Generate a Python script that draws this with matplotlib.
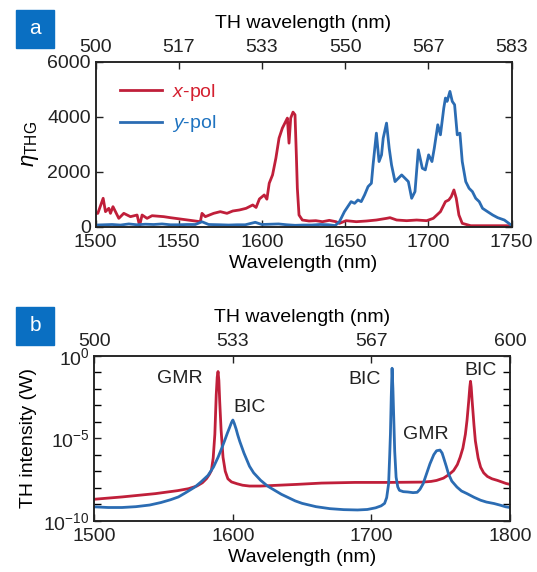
import matplotlib
matplotlib.use("Agg")
import matplotlib.pyplot as plt
import numpy as np
from matplotlib.ticker import NullFormatter, FixedLocator

plt.rcParams['font.family'] = ['Liberation Sans', 'DejaVu Sans']
plt.rcParams['mathtext.fontset'] = 'custom'
plt.rcParams['mathtext.rm'] = 'Liberation Sans'
plt.rcParams['mathtext.it'] = 'Liberation Sans:italic'
plt.rcParams['mathtext.bf'] = 'Liberation Sans:bold'

RED = '#C01F3A'
BLUE = '#2B6CB3'
BOX = '#0A6FC2'

# ---------------- Panel a data ----------------
xpol_wl = [1500, 1501.4, 1504.6, 1506, 1508, 1509, 1510.5, 1512, 1514, 1517, 1521, 1525, 1526.5,
           1528, 1531, 1534, 1541, 1545, 1563, 1564, 1566, 1571, 1575, 1579, 1582.5, 1586.5,
           1590.5, 1594.5, 1596.5, 1598.5, 1601.4, 1603, 1604.4, 1606.4, 1608.4, 1610.3, 1612.3, 1614.3,
           1615.3, 1616.3, 1617.3, 1618.7, 1619.9, 1620.7, 1621.3, 1622.3, 1624.3, 1628.3,
           1632.4, 1636.4, 1640.5, 1644.5, 1646.6, 1650.6, 1656.7, 1662.8, 1668.8, 1675,
           1677, 1681, 1687, 1693, 1699, 1703, 1707.3, 1710.3, 1712.3, 1713.8, 1715.4,
           1716.8, 1718.4, 1720.4, 1725.5, 1737.7, 1746.8, 1750]
xpol_eta = [480, 486, 1033, 547, 668, 486, 729, 547, 304, 486, 365, 425, 36,
            425, 304, 400, 365, 328, 182, 486, 365, 486, 547, 486, 571, 608,
            668, 790, 700, 1008, 1154, 1000, 1580, 1883, 2490, 3220, 3584, 3827,
            3949, 3038, 3949, 4167, 4070, 2612, 1397, 425, 243, 207,
            219, 182, 231, 182, 122, 219, 182, 207, 243, 304,
            328, 243, 219, 243, 219, 304, 547, 911, 972, 1093, 1336,
            1033, 425, 122, 36, 36, 36, 30]

ypol_wl = [1500, 1505, 1510, 1515, 1520, 1525, 1530, 1535, 1540, 1545, 1550, 1555, 1560,
           1564, 1568, 1575, 1580, 1585, 1590, 1596, 1600, 1605, 1610, 1615, 1620, 1625,
           1630, 1635, 1640, 1644, 1646.6, 1649.6, 1651.6, 1653.6, 1655.7, 1657.7, 1659.7,
           1661.7, 1663.8, 1665.8, 1666.8, 1668.8, 1670.4, 1671.9, 1672.9, 1674.9, 1676.5,
           1677.9, 1680, 1682, 1684, 1686, 1688, 1690, 1692, 1694, 1696.4, 1698.2, 1700.2,
           1702.2, 1703.6, 1705.7, 1707.3, 1709.3, 1710.3, 1711.3, 1713, 1714.4, 1715.8,
           1717.4, 1719, 1720.4, 1722.5, 1724.5, 1726.5, 1728.5, 1730.6, 1732.6, 1735.6,
           1738.7, 1741.7, 1745.7, 1750]
ypol_eta = [60, 70, 80, 60, 100, 70, 90, 80, 100, 70, 70, 80, 80,
            180, 80, 70, 60, 70, 70, 160, 80, 90, 100, 70, 50, 60,
            60, 80, 70, 40, 182, 547, 729, 911, 850, 972, 911,
            1154, 1458, 1580, 2248, 3402, 2369, 2612, 3220, 3767, 2855,
            2248, 1640, 1762, 1883, 1762, 1640, 1033, 1276, 2795, 2126, 2066, 2612,
            2369, 2855, 3706, 3341, 4313, 4678, 4556, 4920, 4556, 4435,
            3341, 3402, 2369, 1640, 1397, 1276, 1033, 911, 668, 547,
            425, 328, 243, 50]

a_xticks = [1500, 1550, 1600, 1650, 1700, 1750]
a_top_labels = ['500', '517', '533', '550', '567', '583']
a_yticks = [0, 2000, 4000, 6000]

# ---------------- Panel b data (log10 of TH intensity) ----------------
b_red_wl = [1500, 1520, 1544, 1560, 1568, 1574, 1578, 1581, 1583, 1584.5, 1585.8, 1587, 1588,
            1588.7, 1589.3, 1589.9, 1590.5, 1591.5, 1592.9, 1594.5, 1596.4, 1599, 1603, 1607,
            1612, 1620, 1646, 1664, 1688, 1713, 1737, 1743, 1747, 1752, 1756, 1759.3, 1762,
            1764, 1766, 1767.8, 1769, 1770.2, 1771, 1771.5, 1772, 1772.7, 1774, 1775, 1777,
            1778.8, 1781, 1783.7, 1787, 1791, 1797, 1800]
b_red_log = [-8.7, -8.56, -8.36, -8.18, -8.06, -7.9, -7.7, -7.45, -7.2, -6.96, -6.2, -4.76, -2.36,
             -1.3, -0.96, -1.5, -2.76, -4.5, -6.16, -7.0, -7.46, -7.65, -7.76, -7.85,
             -7.9, -7.9, -7.8, -7.72, -7.68, -7.68, -7.66, -7.62, -7.56, -7.42, -7.2, -6.96, -6.6,
             -6.16, -5.6, -4.76, -3.9, -2.76, -1.9, -1.55, -1.9, -2.76, -4.2, -5.16, -6.2,
             -6.76, -7.1, -7.32, -7.46, -7.56, -7.74, -7.8]

b_blue_wl = [1500, 1510, 1520, 1530, 1540, 1548, 1555, 1560.7, 1566, 1572.6, 1577, 1582, 1586,
             1589.3, 1592, 1594, 1596, 1597.6, 1599, 1600, 1601, 1602.4, 1603.5, 1605, 1608,
             1612, 1615, 1620, 1625, 1630, 1635, 1640, 1645, 1650, 1660, 1670, 1680, 1690,
             1697, 1703, 1707, 1709.5, 1711, 1712.4, 1713.2, 1713.7, 1714.3, 1714.9, 1715.5,
             1716.1, 1716.8, 1717.8, 1719, 1720.2, 1723, 1726.3, 1730, 1733, 1735, 1737.3,
             1740, 1742.2, 1745, 1747, 1749.5, 1751, 1752, 1754, 1755.6, 1758, 1761.7, 1765,
             1769, 1774, 1778.8, 1783, 1788.5, 1793, 1797, 1800]
b_blue_log = [-9.16, -9.2, -9.2, -9.15, -9.05, -8.9, -8.73, -8.56, -8.3, -7.96, -7.65, -7.26, -6.75,
              -6.16, -5.6, -5.16, -4.7, -4.36, -4.05, -3.9, -4.1, -4.46, -4.8, -5.2, -5.9,
              -6.7, -7.1, -7.55, -7.9, -8.15, -8.4, -8.6, -8.8, -8.95, -9.15, -9.27, -9.33, -9.35,
              -9.32, -9.22, -9.1, -8.95, -8.6, -7.76, -6.0, -4.76, -2.5, -0.76, -2.0,
              -3.76, -5.8, -7.36, -7.95, -8.16, -8.24, -8.26, -8.3, -8.28, -8.1, -7.76,
              -7.1, -6.56, -6.0, -5.76, -5.72, -5.9, -6.16, -6.7, -7.16, -7.6, -7.96, -8.2,
              -8.36, -8.58, -8.76, -8.87, -8.96, -9.06, -9.16, -9.2]

b_xticks = [1500, 1600, 1700, 1800]
b_top_labels = ['500', '533', '567', '600']

b_labels = ['GMR', 'BIC', 'BIC', 'GMR', 'BIC']
b_label_wl = [1562, 1612, 1695, 1739, 1779]
b_label_log = [-1.41, -3.15, -1.45, -4.8, -0.87]

FS = 14

W, H = 537, 572
fig = plt.figure(figsize=(W / 100, H / 100), dpi=100)


def ax_rect(l, t, r, b):
    return [l / W, 1 - b / H, (r - l) / W, (b - t) / H]


def style_axis(ax):
    for s in ax.spines.values():
        s.set_linewidth(1.1)
        s.set_color('#222222')
    ax.tick_params(direction='in', length=5, width=1.0, labelsize=FS, colors='#222222',
                   labelcolor='#222222', pad=3.5)


# ---------------- Panel a ----------------
axa = fig.add_axes(ax_rect(95.5, 61.7, 511.5, 226.7))
axa.plot(xpol_wl, xpol_eta, color=RED, lw=2.0, label=r'$x$-pol')
axa.plot(ypol_wl, ypol_eta, color=BLUE, lw=2.0, label=r'$y$-pol')
axa.set_xlim(1500, 1750)
axa.set_ylim(0, 6000)
axa.set_xticks(a_xticks)
axa.set_yticks(a_yticks)
style_axis(axa)
axa.tick_params(right=True, top=False)
axa.tick_params(axis='x', pad=5)
axa.set_xlabel('Wavelength (nm)', fontsize=FS, labelpad=3)
axa.set_ylabel(r'$\eta_{\mathrm{THG}}$', fontsize=FS + 2, labelpad=4)
leg = axa.legend(loc='upper left', frameon=False, fontsize=FS, handlelength=2.2,
                 handletextpad=0.5, borderaxespad=0.2, bbox_to_anchor=(0.03, 0.95),
                 labelspacing=0.55)
for t, c in zip(leg.get_texts(), ['#D42030', '#1F73C0']):
    t.set_color(c)

axa2 = axa.twiny()
axa2.set_xlim(1500, 1750)
axa2.set_xticks(a_xticks)
axa2.set_xticklabels(a_top_labels)
style_axis(axa2)
axa2.tick_params(axis='x', pad=4)
axa2.set_xlabel('TH wavelength (nm)', fontsize=FS, labelpad=8)

# ---------------- Panel b ----------------
axb = fig.add_axes(ax_rect(94.3, 355.7, 510, 520.7))
axb.plot(b_red_wl, 10.0 ** np.array(b_red_log), color=RED, lw=2.0)
axb.plot(b_blue_wl, 10.0 ** np.array(b_blue_log), color=BLUE, lw=2.0)
axb.set_yscale('log')
axb.set_xlim(1500, 1800)
axb.set_ylim(1e-10, 1e0)
axb.set_xticks(b_xticks)
axb.yaxis.set_major_locator(FixedLocator([1e-10, 1e-5, 1e0]))
axb.yaxis.set_minor_locator(FixedLocator([10.0 ** k for k in range(-9, 0) if k != -5]))
axb.yaxis.set_minor_formatter(NullFormatter())
axb.set_yticklabels([r'$10^{-10}$', r'$10^{-5}$', r'$10^{0}$'])
style_axis(axb)
axb.tick_params(which='minor', direction='in', length=5, width=1.0, right=True)
axb.tick_params(right=True, top=False)
axb.tick_params(axis='x', pad=5)
axb.set_xlabel('Wavelength (nm)', fontsize=FS, labelpad=3)
axb.set_ylabel('TH intensity (W)', fontsize=FS, labelpad=4)
for s, wl, lg in zip(b_labels, b_label_wl, b_label_log):
    axb.text(wl, 10.0 ** lg, s, fontsize=FS, ha='center', va='center', color='#222222')

axb2 = axb.twiny()
axb2.set_xlim(1500, 1800)
axb2.set_xticks(b_xticks)
axb2.set_xticklabels(b_top_labels)
style_axis(axb2)
axb2.tick_params(axis='x', pad=4)
axb2.set_xlabel('TH wavelength (nm)', fontsize=FS, labelpad=8)

# ---------------- Panel letters ----------------
for lbl, top in [('a', 10), ('b', 307)]:
    fig.patches.append(plt.Rectangle((16 / W, 1 - (top + 37.5) / H), 38 / W, 37.5 / H,
                                     transform=fig.transFigure, color=BOX, zorder=5))
    fig.text(35 / W, 1 - (top + 18.5) / H, lbl, color='white', fontsize=FS + 1,
             ha='center', va='center', zorder=6)

fig.savefig('out.png', dpi=100)
